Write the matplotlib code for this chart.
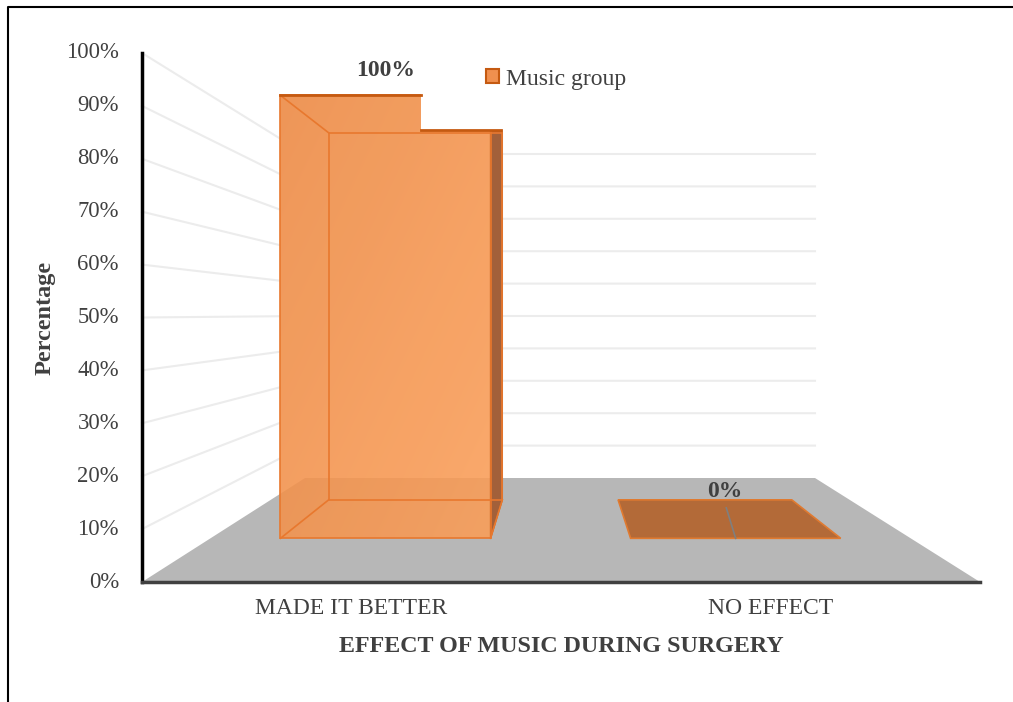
import numpy as np
import matplotlib.pyplot as plt
from matplotlib.patches import Polygon, Patch
from matplotlib.colors import to_rgb

categories = ["MADE IT BETTER", "NO EFFECT"]
music_group = [100, 0]          # percent
y_ticks = [0, 10, 20, 30, 40, 50, 60, 70, 80, 90, 100]

TEXT = "#404040"
FONT = "Liberation Serif"

# front and back planes of the 3-D box, in figure pixels
FRONT = dict(x0=142, x1=980, y0=582, h=529)
BACK = dict(x0=305, x1=815, y0=478, h=324)
BAR_W = 0.30
T0, T1 = 0.42, 0.79             # depth of the bars (0 = front, 1 = back)


def proj(u, v, t):
    """u across the category axis (0..1), v value in percent, t depth."""
    x0 = FRONT["x0"] + (BACK["x0"] - FRONT["x0"]) * t
    x1 = FRONT["x1"] + (BACK["x1"] - FRONT["x1"]) * t
    y0 = FRONT["y0"] + (BACK["y0"] - FRONT["y0"]) * t
    h = FRONT["h"] + (BACK["h"] - FRONT["h"]) * t
    return x0 + u * (x1 - x0), y0 - v / 100 * h


def main():
    fig = plt.figure(figsize=(10.13, 7.02), dpi=100)
    ax = fig.add_axes([0, 0, 1, 1])
    ax.set_xlim(0, 1013)
    ax.set_ylim(702, 0)
    ax.axis("off")

    # outer frame
    ax.plot([8, 8, 1013], [702, 7, 7], color="black", lw=1.5, zorder=1)

    # floor
    floor = [proj(0, 0, 0), proj(1, 0, 0), proj(1, 0, 1), proj(0, 0, 1)]
    ax.add_patch(Polygon(floor, closed=True, fc="#b7b7b7", ec="none", zorder=2))

    # gridlines on the side wall and back wall
    for v in y_ticks[1:]:
        a, b, c = proj(0, v, 0), proj(0, v, 1), proj(1, v, 1)
        ax.plot([a[0], b[0], c[0]], [a[1], b[1], c[1]], color="#ececec", lw=1.5, zorder=2)

    # axes lines
    ax.plot([FRONT["x0"], FRONT["x0"]], [proj(0, 100, 0)[1], FRONT["y0"]], color="black", lw=2.5, zorder=6)
    ax.plot([FRONT["x0"], FRONT["x1"]], [FRONT["y0"], FRONT["y0"]], color="#404040", lw=2.5, zorder=6)

    # y tick labels
    for v in y_ticks:
        ax.text(119, proj(0, v, 0)[1], f"{v}%", ha="right", va="center",
                fontsize=16.3, family=FONT, color=TEXT)

    n = len(categories)
    floor_back_y = proj(0, 0, 1)[1]
    for i, (cat, val) in enumerate(zip(categories, music_group)):
        uc = (i + 0.5) / n
        u0, u1 = uc - BAR_W / 2, uc + BAR_W / 2
        fl, fr = proj(u0, 0, T0), proj(u1, 0, T0)
        bl, br = proj(u0, 0, T1), proj(u1, 0, T1)
        if val > 0:
            ftl, ftr = proj(u0, val, T0), proj(u1, val, T0)
            btl, btr = proj(u0, val, T1), proj(u1, val, T1)
            # the wall behind the bar stays plain white
            ax.add_patch(Polygon([(fl[0], floor_back_y), (br[0], floor_back_y),
                                  (br[0], ftl[1]), (fl[0], ftl[1])],
                                 closed=True, fc="white", ec="none", zorder=2.5))
            front = Polygon([fl, fr, ftr, ftl], closed=True, fc="none", ec="none")
            ax.add_patch(front)
            # shaded front face, lighter towards the upper right
            gx, gy = np.meshgrid(np.linspace(0, 1, 60), np.linspace(0, 1, 60))
            g = (gx + (1 - gy)) / 2
            c0, c1 = np.array(to_rgb("#ec8841")), np.array(to_rgb("#fb9e58"))
            img = c0 + (c1 - c0) * g[..., None]
            rgba = np.dstack([img, np.full(g.shape, 0.88)])
            im = ax.imshow(rgba, extent=(fl[0], fr[0], fl[1], ftl[1]), origin="lower",
                           aspect="auto", interpolation="bilinear", zorder=3)
            im.set_clip_path(front)
            ax.set_xlim(0, 1013)
            ax.set_ylim(702, 0)
            # right side face
            ax.add_patch(Polygon([fr, br, btr, ftr], closed=True, fc="#a2603a",
                                 ec="#c0621f", lw=1, zorder=4))
            # back face and depth edges
            ax.add_patch(Polygon([bl, br, btr, btl], closed=True, fc="none",
                                 ec="#e8782e", lw=1.2, zorder=4))
            for p, q in [(fl, bl), (ftl, btl), (fr, br)]:
                ax.plot([p[0], q[0]], [p[1], q[1]], color="#e8782e", lw=1.2, zorder=4)
            ax.add_patch(Polygon([fl, fr, ftr, ftl], closed=True, fc="none",
                                 ec="#e8782e", lw=1.2, zorder=4))
            # top face is left open
            nx = proj(0.30, val, T0)[0]
            ax.add_patch(Polygon([(nx, ftl[1] - 1), (btr[0] + 2, ftl[1] - 1),
                                  (btr[0] + 2, btr[1] - 3), (nx, btr[1] - 3)],
                                 closed=True, fc="white", ec="none", zorder=5))
            ax.plot([ftl[0], nx], [ftl[1], ftl[1]], color="#c55a11", lw=2, zorder=5)
            ax.plot([nx, ftr[0] + 10], [btr[1] - 3, btr[1] - 3], color="#c55a11", lw=2, zorder=5)
            lx, ly = proj(uc, val, T0)[0], ftl[1] - 25
        else:
            ax.add_patch(Polygon([fl, fr, br, bl], closed=True, fc="#b36a38",
                                 ec="#e07a30", lw=1.2, zorder=4))
            lx, ly = proj(uc, val, (T0 + T1) / 2)[0] + 5, bl[1] - 8
            # leader from the label down to the front edge
            fx, fy = proj(uc, val, T0)
            ax.plot([lx + 1, fx], [ly + 16, fy], color="#7f7f7f", lw=1.2, zorder=5)
        ax.text(lx, ly, f"{val}%", ha="center", va="center", fontsize=17,
                fontweight="bold", family=FONT, color=TEXT, zorder=7)
        ax.text(proj(uc, 0, 0)[0], 609, cat, ha="center", va="center",
                fontsize=17, family=FONT, color=TEXT)

    ax.text((FRONT["x0"] + FRONT["x1"]) / 2, 646, "EFFECT OF MUSIC DURING SURGERY",
            ha="center", va="center", fontsize=17.3, fontweight="bold", family=FONT, color=TEXT)
    ax.text(45, 318, "Percentage", rotation=90, ha="center", va="center",
            fontsize=17.5, fontweight="bold", family=FONT, color=TEXT)

    handle = Patch(fc="#f0904f", ec="#c55a11", lw=1.5)
    ax.legend([handle], ["Music group"], loc="center left",
              bbox_to_anchor=(486 / 1013, 1 - 79 / 702), frameon=False,
              handlelength=0.55, handleheight=0.55, handletextpad=0.3, borderpad=0,
              borderaxespad=0, prop={"family": FONT, "size": 17}, labelcolor=TEXT)

    fig.savefig("out.png", dpi=100)


if __name__ == "__main__": main()
